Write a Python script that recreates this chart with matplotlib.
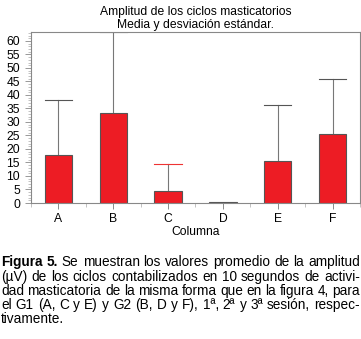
import matplotlib.pyplot as plt
from matplotlib.ticker import MultipleLocator

plt.rcParams['font.family'] = ['Liberation Sans', 'DejaVu Sans']

# data
columns = ["A", "B", "C", "D", "E", "F"]
means = [17.8, 33.4, 4.6, 0.2, 15.4, 25.7]
sds = [20.3, 29.9, 9.7, 0.0, 20.9, 20.2]
cap_colors = ["#555555", "#555555", "#ee3333", "#555555", "#555555", "#555555"]

title = "Amplitud de los ciclos masticatorios\nMedia y desviación estándar."
caption = [
    [("Figura 5.", "bold"), ("Se muestran los valores promedio de la amplitud", "normal")],
    [("(µV) de los ciclos contabilizados en 10 segundos de activi-", "normal")],
    [("dad masticatoria de la misma forma que en la figura 4, para", "normal")],
    [("el G1 (A, C y E) y G2 (B, D y F), 1ª, 2ª y 3ª sesión, respec-", "normal")],
    [("tivamente.", "normal")],
]

W, H = 361, 339
fig = plt.figure(figsize=(W / 100, H / 100), dpi=100)
ax = fig.add_axes([31 / W, 1 - 203 / H, 329 / W, 171 / H])

x = list(range(len(columns)))
ax.bar(x, means, width=0.5, color="#ed1c24", edgecolor="#555555", linewidth=0.8, zorder=2)
for xi, m, s, c in zip(x, means, sds, cap_colors):
    if s <= 0:
        continue
    ax.plot([xi, xi], [m, m + s], color="#777777", lw=0.8, zorder=1)
    ax.plot([xi - 0.25, xi + 0.25], [m + s, m + s], color=c, lw=0.8, zorder=1)

ax.set_xlim(-0.5, 5.5)
ax.set_ylim(0, 63.3)
ax.set_xticks(x)
ax.set_xticklabels(columns, fontsize=8.7)
ax.xaxis.set_minor_locator(MultipleLocator(1, offset=0.5))
ax.yaxis.set_major_locator(MultipleLocator(5))
ax.yaxis.set_minor_locator(MultipleLocator(1))
ax.tick_params(axis="y", labelsize=8.7, length=4, width=0.6, color="#888888", pad=4)
ax.tick_params(axis="y", which="minor", length=2, width=0.5, color="#aaaaaa")
ax.tick_params(axis="x", length=4, width=0.6, color="#777777", pad=3)
ax.tick_params(axis="x", which="minor", length=3, width=0.5, color="#aaaaaa")
for sp in ax.spines.values():
    sp.set_color("#888888")
    sp.set_linewidth(0.8)
ax.set_xlabel("Columna", fontsize=8.7, labelpad=1)
ax.set_title(title, fontsize=8.7, linespacing=1.1, pad=3)

# caption, justified line by line
fig.canvas.draw()
r = fig.canvas.get_renderer()
fs = 9.8
ys = [262, 277, 291, 305, 319]
left, right = 1, 360
for li, (line, y) in enumerate(zip(caption, ys)):
    words = []
    for chunk, weight in line:
        for w in chunk.split(" "):
            words.append((w, weight))
    texts = []
    total = 0
    for w, weight in words:
        t = fig.text(0, 1 - y / H, w, fontsize=fs, fontweight=weight, va="center", ha="left")
        wd = t.get_window_extent(r).width
        texts.append((t, wd))
        total += wd
    last = li == len(caption) - 1
    if last or len(texts) < 2:
        gap = 2.7
    else:
        gap = (right - left - total) / (len(texts) - 1)
    xp = left
    for t, wd in texts:
        t.set_x(xp / W)
        xp += wd + gap

fig.savefig("out.png", dpi=100)
